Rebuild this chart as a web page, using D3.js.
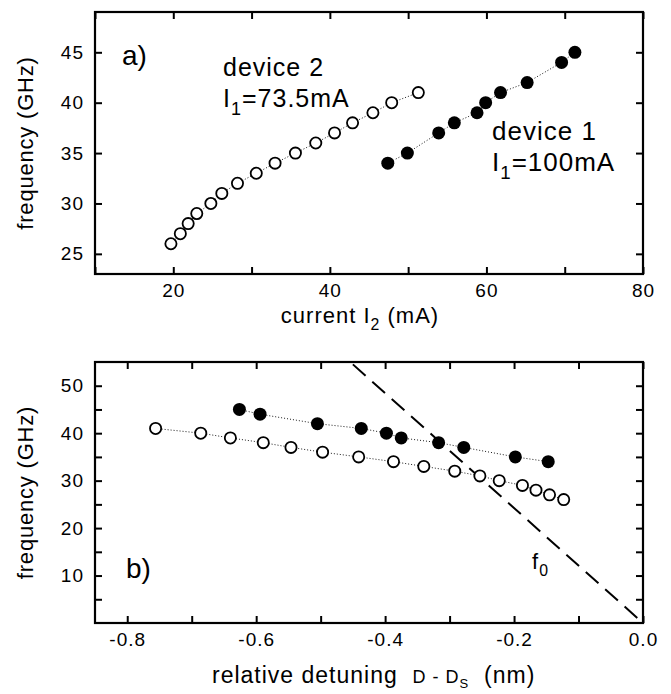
<!DOCTYPE html>
<html>
<head>
<meta charset="utf-8">
<script src="https://cdn.jsdelivr.net/npm/d3@7"></script>
<style>
  body { margin: 0; background: #fff; }
  text { font-family: "Liberation Sans", Arial, sans-serif; fill: #000; }
</style>
</head>
<body>
<div id="chart"></div>
<script>

// frequencies (GHz) shared by both panels
var dev1Freq = [34, 35, 37, 38, 39, 40, 41, 42, 44, 45];
var dev2Freq = [26, 27, 28, 29, 30, 31, 32, 33, 34, 35, 36, 37, 38, 39, 40, 41];

// panel a) : current I2 (mA)
var dev1Current = [47.4, 49.9, 53.9, 55.9, 58.8, 59.9, 61.8, 65.2, 69.6, 71.3];
var dev2Current = [19.7, 20.9, 21.9, 23.0, 24.8, 26.2, 28.2, 30.6, 33.0, 35.6, 38.2, 40.6, 42.9, 45.5, 47.9, 51.3];

// panel b) : relative detuning (nm)
var dev1Detuning = [-0.147, -0.198, -0.278, -0.317, -0.375, -0.398, -0.437, -0.505, -0.594, -0.626];
var dev2Detuning = [-0.123, -0.145, -0.166, -0.187, -0.223, -0.253, -0.292, -0.340, -0.387, -0.441, -0.497, -0.546, -0.589, -0.640, -0.686, -0.756];

// f0 line (detuning, frequency)
var f0Detuning = [-0.45, 0];
var f0Freq = [54.5, 0];

// ticks
var aXTicks = [10, 20, 30, 40, 50, 60, 70, 80];
var aXLabels = [20, 40, 60, 80];
var aYTicks = [25, 30, 35, 40, 45];
var bXTicks = [-0.8, -0.7, -0.6, -0.5, -0.4, -0.3, -0.2, -0.1, 0];
var bXLabels = [-0.8, -0.6, -0.4, -0.2, 0];
var bYTicks = [5, 10, 15, 20, 25, 30, 35, 40, 45, 50];
var bYLabels = [10, 20, 30, 40, 50];

var svg = d3.select("#chart").append("svg")
    .attr("width", 671)
    .attr("height", 694);

function zip(xs, ys) {
    return xs.map(function(d, i) { return [d, ys[i]]; });
}

function drawPanel(p) {
    var g = svg.append("g")
        .attr("transform", "translate(" + p.left + "," + p.top + ")");

    var x = d3.scaleLinear().domain(p.xDomain).range([0, p.width]);
    var y = d3.scaleLinear().domain(p.yDomain).range([p.height, 0]);

    var fmtX = function(d) { return p.xLabels.some(function(v) { return Math.abs(v - d) < 1e-9; }) ? p.xFormat(d) : ""; };
    var fmtY = function(d) { return p.yLabels.some(function(v) { return Math.abs(v - d) < 1e-9; }) ? String(d) : ""; };

    // axes on four sides, ticks pointing inward
    var axes = [
        {ax: d3.axisBottom(x).tickValues(p.xTicks).tickFormat(fmtX), t: "translate(0," + p.height + ")", pad: 10},
        {ax: d3.axisTop(x).tickValues(p.xTicks).tickFormat(""), t: "translate(0,0)", pad: 10},
        {ax: d3.axisLeft(y).tickValues(p.yTicks).tickFormat(fmtY), t: "translate(0,0)", pad: 11},
        {ax: d3.axisRight(y).tickValues(p.yTicks).tickFormat(""), t: "translate(" + p.width + ",0)", pad: 11}
    ];
    axes.forEach(function(a) {
        var ag = g.append("g").attr("transform", a.t)
            .call(a.ax.tickSizeInner(-7).tickSizeOuter(0).tickPadding(a.pad));
        ag.select(".domain").remove();
        ag.selectAll(".tick line").attr("stroke", "#000").attr("stroke-width", 2);
        ag.selectAll("text").style("font-size", "19px").style("letter-spacing", "1px");
    });

    g.append("clipPath").attr("id", "clip" + p.id)
        .append("rect").attr("width", p.width).attr("height", p.height);

    var plot = g.append("g").attr("clip-path", "url(#clip" + p.id + ")");

    var line = d3.line()
        .x(function(d) { return x(d[0]); })
        .y(function(d) { return y(d[1]); });

    if (p.dashed) {
        plot.append("path")
            .datum(p.dashed)
            .attr("d", line)
            .attr("fill", "none")
            .attr("stroke", "#000")
            .attr("stroke-width", 2)
            .attr("stroke-dasharray", "17,9");
    }

    p.series.forEach(function(s) {
        plot.append("path")
            .datum(s.data)
            .attr("d", line)
            .attr("fill", "none")
            .attr("stroke", "#000")
            .attr("stroke-width", 0.9)
            .attr("stroke-dasharray", "1,2");
    });

    p.series.forEach(function(s) {
        plot.selectAll(".pt" + s.name)
            .data(s.data)
            .enter()
            .append("circle")
            .attr("cx", function(d) { return x(d[0]); })
            .attr("cy", function(d) { return y(d[1]); })
            .attr("r", s.filled ? 6.5 : 5.6)
            .attr("fill", s.filled ? "#000" : "#fff")
            .attr("stroke", "#000")
            .attr("stroke-width", s.filled ? 0 : 1.8);
    });

    // frame
    g.append("rect")
        .attr("width", p.width)
        .attr("height", p.height)
        .attr("fill", "none")
        .attr("stroke", "#000")
        .attr("stroke-width", 2.2);

    // y title
    g.append("text")
        .attr("transform", "translate(" + (25 - p.left) + "," + (p.height / 2) + ") rotate(-90)")
        .attr("text-anchor", "middle")
        .attr("dy", "0.35em")
        .style("font-size", "22px")
        .style("letter-spacing", "0.8px")
        .text("frequency (GHz)");

    return {g: g, x: x, y: y};
}

// ---- panel a)
var pa = drawPanel({
    id: "a", left: 95, top: 12, width: 548, height: 262,
    xDomain: [10, 80], yDomain: [23, 49],
    xTicks: aXTicks, xLabels: aXLabels, xFormat: function(d) { return String(d); },
    yTicks: aYTicks, yLabels: aYTicks,
    series: [
        {name: "d2", data: zip(dev2Current, dev2Freq), filled: false},
        {name: "d1", data: zip(dev1Current, dev1Freq), filled: true}
    ]
});

// ---- panel b)
var pb = drawPanel({
    id: "b", left: 95, top: 362, width: 548, height: 261,
    xDomain: [-0.85, 0], yDomain: [0, 55],
    xTicks: bXTicks, xLabels: bXLabels, xFormat: function(d) { return d.toFixed(1); },
    yTicks: bYTicks, yLabels: bYLabels,
    dashed: zip(f0Detuning, f0Freq),
    series: [
        {name: "d2", data: zip(dev2Detuning, dev2Freq), filled: false},
        {name: "d1", data: zip(dev1Detuning, dev1Freq), filled: true}
    ]
});

// text with a subscript, built from parts [[text, isSub], ...]
function subText(parent, xPos, yPos, size, parts, anchor) {
    var t = parent.append("text")
        .attr("x", xPos).attr("y", yPos)
        .attr("text-anchor", anchor || "start")
        .style("font-size", size + "px")
        .style("letter-spacing", "1px");
    var shifted = false;
    parts.forEach(function(pt) {
        var s = t.append("tspan").text(pt[0]);
        if (pt[1] && !shifted) { s.attr("dy", size * 0.3).style("font-size", (size * 0.72) + "px"); shifted = true; }
        else if (!pt[1] && shifted) { s.attr("dy", -size * 0.3); shifted = false; }
    });
    return t;
}

// annotations, panel a)
svg.append("text").attr("x", 122).attr("y", 65).style("font-size", "28px").text("a)");
subText(svg, 223, 76, 25, [["device 2", false]]);
subText(svg, 223, 107, 25, [["I", false], ["1", true], ["=73.5mA", false]]);
subText(svg, 492, 140, 26, [["device 1", false]]);
subText(svg, 492, 171, 26, [["I", false], ["1", true], ["=100mA", false]]);

// axis title, panel a)
subText(svg, 360, 323, 22, [["current I", false], ["2", true], [" (mA)", false]], "middle");

// annotations, panel b)
svg.append("text").attr("x", 126).attr("y", 578).style("font-size", "28px").text("b)");
subText(svg, 532, 569, 22, [["f", false], ["0", true]]);

// axis title, panel b)
var tb = svg.append("text")
    .attr("x", 212).attr("y", 683)
    .style("font-size", "23px")
    .style("letter-spacing", "1px")
    .style("white-space", "pre");
tb.append("tspan").text("relative detuning  ");
tb.append("tspan").style("font-size", "18px").text("D - D");
tb.append("tspan").attr("dy", 5).style("font-size", "13px").text("S");
tb.append("tspan").attr("dy", -5).text("  (nm)");

</script>
</body>
</html>
